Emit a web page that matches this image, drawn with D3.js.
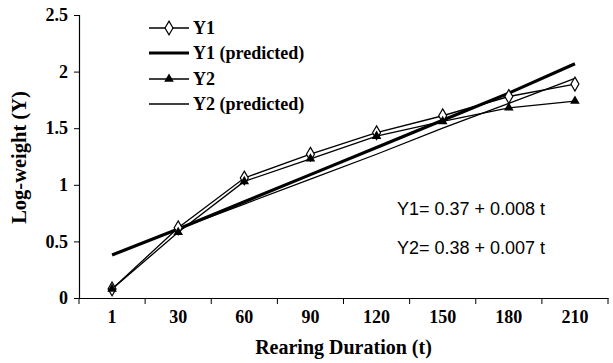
<!DOCTYPE html>
<html lang="en">
  <head>
    <meta charset="UTF-8" />
    <title>Log-weight vs rearing duration</title>
    <style>
      * {
        margin: 0;
        padding: 0;
      }
      body {
        background-color: #fff;
      }
      text {
        font-family: "Liberation Serif", "Times New Roman", serif;
        font-weight: bold;
        fill: #000;
      }
    </style>
  </head>
  <body>
    <script src="https://cdn.jsdelivr.net/npm/d3@7"></script>
    <script>
      const categories = ["1", "30", "60", "90", "120", "150", "180", "210"];
      const y1 = [0.08, 0.62, 1.06, 1.27, 1.46, 1.61, 1.78, 1.89];
      const y1Predicted = [0.38, 0.61, 0.85, 1.09, 1.33, 1.57, 1.81, 2.07];
      const y2 = [0.08, 0.58, 1.03, 1.23, 1.43, 1.56, 1.68, 1.74];
      const y2Predicted = [null, 0.61, 0.83, 1.05, 1.27, 1.5, 1.72, 1.94];
      const yTicks = [0, 0.5, 1, 1.5, 2, 2.5];
      const legendLabels = ["Y1", "Y1 (predicted)", "Y2", "Y2 (predicted)"];
      const equations = ["Y1= 0.37 + 0.008 t", "Y2= 0.38 + 0.007 t"];

      const width = 613,
        height = 363;
      const plot = { left: 79, right: 608, top: 15, bottom: 298 };

      const svg = d3.select("body").append("svg").attr("width", width).attr("height", height);

      const x = d3.scaleBand().domain(categories).range([plot.left, plot.right]).padding(0);
      const y = d3.scaleLinear().domain([0, 2.5]).range([plot.bottom, plot.top]);
      const cx = (c) => x(c) + x.bandwidth() / 2;

      // y axis
      const yAxis = svg
        .append("g")
        .attr("transform", `translate(${plot.left},0)`)
        .call(d3.axisLeft(y).tickValues(yTicks).tickSize(5).tickPadding(6).tickFormat(d3.format("")));
      yAxis.select(".domain").attr("stroke", "#000").attr("stroke-width", 1.2);
      yAxis.selectAll(".tick line").attr("stroke", "#000");
      yAxis.selectAll(".tick text").style("font-size", "18px").attr("fill", "#000");

      // x axis: labels centred on bands, ticks on band edges
      const xAxis = svg
        .append("g")
        .attr("transform", `translate(0,${plot.bottom})`)
        .call(d3.axisBottom(x).tickSize(0).tickPadding(12));
      xAxis.select(".domain").attr("stroke", "#000").attr("stroke-width", 1.2);
      xAxis.selectAll(".tick text").style("font-size", "18px").attr("fill", "#000");
      xAxis
        .selectAll("line.edge")
        .data(categories.map((c) => x(c)).concat([plot.right]))
        .enter()
        .append("line")
        .attr("class", "edge")
        .attr("x1", (d) => d)
        .attr("x2", (d) => d)
        .attr("y1", 0)
        .attr("y2", 6)
        .attr("stroke", "#000");

      // axis titles
      svg
        .append("text")
        .attr("x", (plot.left + plot.right) / 2)
        .attr("y", 354)
        .attr("text-anchor", "middle")
        .style("font-size", "20px")
        .text("Rearing Duration (t)");
      svg
        .append("text")
        .attr("transform", `translate(26,${(88 + 227) / 2}) rotate(-90)`)
        .attr("text-anchor", "middle")
        .style("font-size", "20.5px")
        .text("Log-weight (Y)");

      const line = d3
        .line()
        .defined((d) => d.v != null)
        .x((d) => cx(d.c))
        .y((d) => y(d.v));
      const pts = (vals) => categories.map((c, i) => ({ c: c, v: vals[i] }));

      // predicted lines
      svg.append("path").datum(pts(y2Predicted)).attr("d", line).attr("fill", "none").attr("stroke", "#000").attr("stroke-width", 1.3);
      svg.append("path").datum(pts(y1Predicted)).attr("d", line).attr("fill", "none").attr("stroke", "#000").attr("stroke-width", 3.2);

      // observed lines
      svg.append("path").datum(pts(y2)).attr("d", line).attr("fill", "none").attr("stroke", "#000").attr("stroke-width", 1.3);
      svg.append("path").datum(pts(y1)).attr("d", line).attr("fill", "none").attr("stroke", "#000").attr("stroke-width", 1.3);

      const diamond = d3.symbol().type(d3.symbolDiamond).size(55);
      const triangle = d3.symbol().type(d3.symbolTriangle).size(40);

      svg
        .selectAll("path.dia")
        .data(pts(y1))
        .enter()
        .append("path")
        .attr("class", "dia")
        .attr("d", diamond)
        .attr("transform", (d) => `translate(${cx(d.c)},${y(d.v)})`)
        .attr("fill", "#fff")
        .attr("stroke", "#000")
        .attr("stroke-width", 1.2);
      svg
        .selectAll("path.tri")
        .data(pts(y2))
        .enter()
        .append("path")
        .attr("class", "tri")
        .attr("d", triangle)
        .attr("transform", (d) => `translate(${cx(d.c)},${y(d.v)})`)
        .attr("fill", "#000");

      // legend
      const legendY = [28, 53, 79, 104];
      const legendWidth = [1.3, 3.2, 1.3, 1.3];
      const legend = svg
        .selectAll("g.legend")
        .data(legendLabels)
        .enter()
        .append("g")
        .attr("class", "legend")
        .attr("transform", (d, i) => `translate(149,${legendY[i]})`);
      legend
        .append("line")
        .attr("x1", 0)
        .attr("x2", 40)
        .attr("stroke", "#000")
        .attr("stroke-width", (d, i) => legendWidth[i]);
      legend
        .append("text")
        .attr("x", 44)
        .attr("dy", "0.35em")
        .style("font-size", "18px")
        .text((d) => d);
      legend
        .filter((d, i) => i === 0)
        .append("path")
        .attr("d", diamond)
        .attr("transform", "translate(20,0)")
        .attr("fill", "#fff")
        .attr("stroke", "#000")
        .attr("stroke-width", 1.2);
      legend
        .filter((d, i) => i === 2)
        .append("path")
        .attr("d", triangle)
        .attr("transform", "translate(20,0)")
        .attr("fill", "#000");

      // regression equations
      svg
        .selectAll("text.eq")
        .data(equations)
        .enter()
        .append("text")
        .attr("class", "eq")
        .attr("x", 397)
        .attr("y", (d, i) => [215, 254][i])
        .style("font-family", "'Liberation Sans', Arial, sans-serif")
        .style("font-weight", "normal")
        .style("font-size", "18px")
        .attr("fill", "#222")
        .text((d) => d);
    </script>
  </body>
</html>
